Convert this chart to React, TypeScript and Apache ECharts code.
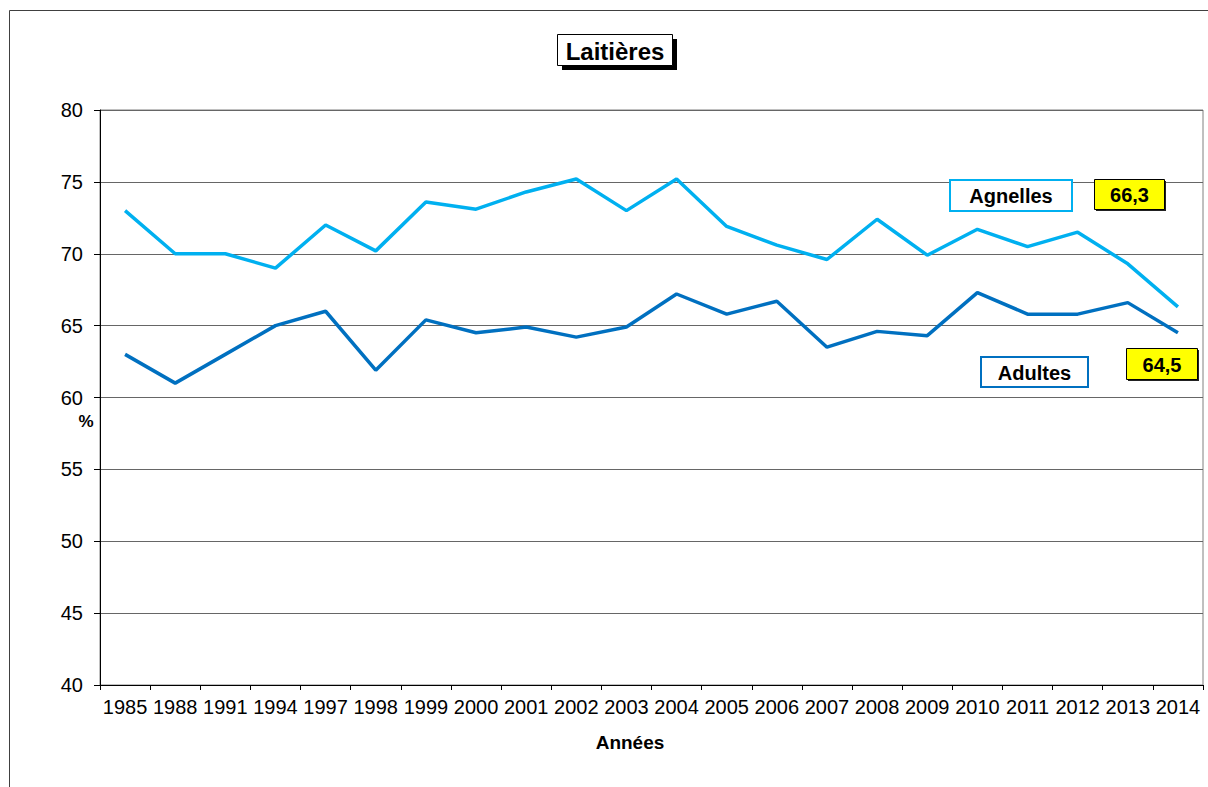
import React, { useEffect, useRef } from "react";
import * as echarts from "echarts";

const years = ["1985","1988","1991","1994","1997","1998","1999","2000","2001","2002","2003","2004","2005","2006","2007","2008","2009","2010","2011","2012","2013","2014"];
const agnelles = [73.0,70.0,70.0,69.0,72.0,70.2,73.6,73.1,74.3,75.2,73.0,75.2,71.9,70.6,69.6,72.4,69.9,71.7,70.5,71.5,69.3,66.3];
const adultes = [63.0,61.0,63.0,65.0,66.0,61.9,65.4,64.5,64.9,64.2,64.9,67.2,65.8,66.7,63.5,64.6,64.3,67.3,65.8,65.8,66.6,64.5];
const yTicks = { min: 40, max: 80, interval: 5 };
const title = "Laitières";
const seriesNames = ["Agnelles", "Adultes"];
const xName = "Années";
const yName = "%";

const FONT = "'Liberation Sans', Arial, Helvetica, sans-serif";
const fmt = (v: number) => v.toFixed(1).replace(".", ",");

export default function App() {
  const ref = useRef<HTMLDivElement>(null);
  useEffect(() => {
    if (!ref.current) return;
    const chart = echarts.init(ref.current, undefined, { renderer: "svg" });
    const lastA = agnelles[agnelles.length - 1];
    const lastB = adultes[adultes.length - 1];
    const boxText = (x: number, y: number, text: string, size = 20) => ({
      type: "text",
      x, y,
      z: 20,
      style: { text, fill: "#000", font: `bold ${size}px ${FONT}`, align: "center", verticalAlign: "middle" },
    });
    chart.setOption({
      animation: false,
      backgroundColor: "#fff",
      grid: { left: 100, right: 5, top: 110, bottom: 102, show: true, borderColor: "#808080", borderWidth: 1, backgroundColor: "transparent" },
      xAxis: {
        type: "category",
        data: years,
        boundaryGap: true,
        axisLine: { lineStyle: { color: "#000", width: 1 } },
        axisTick: { show: true, interval: 0, length: 5, lineStyle: { color: "#000" } },
        axisLabel: { interval: 0, color: "#000", fontSize: 20, fontFamily: FONT, margin: 12 },
        splitLine: { show: false },
      },
      yAxis: {
        type: "value",
        min: yTicks.min,
        max: yTicks.max,
        interval: yTicks.interval,
        axisLine: { show: true, lineStyle: { color: "#000", width: 1 } },
        axisTick: { show: true, length: 6, lineStyle: { color: "#000" } },
        axisLabel: { color: "#000", fontSize: 20, fontFamily: FONT, margin: 17 },
        splitLine: { show: true, lineStyle: { color: "#666", width: 1 } },
      },
      series: [
        { name: seriesNames[0], type: "line", data: agnelles, showSymbol: false, symbol: "none", lineStyle: { color: "#00B0F0", width: 3.5 }, itemStyle: { color: "#00B0F0" }, z: 3 },
        { name: seriesNames[1], type: "line", data: adultes, showSymbol: false, symbol: "none", lineStyle: { color: "#0070C0", width: 3.5 }, itemStyle: { color: "#0070C0" }, z: 3 },
      ],
      graphic: [
        { type: "rect", z: 0, silent: true, shape: { x: 9.5, y: 10.5, width: 1400, height: 1000 }, style: { fill: "none", stroke: "#404040", lineWidth: 1 } },
        // title
        { type: "rect", z: 18, shape: { x: 562, y: 39, width: 115, height: 31 }, style: { fill: "#000" } },
        { type: "rect", z: 19, shape: { x: 557.5, y: 34.5, width: 115, height: 31 }, style: { fill: "#fff", stroke: "#000", lineWidth: 1 } },
        boxText(615, 51, title, 24),
        // Agnelles label
        { type: "rect", z: 19, shape: { x: 950, y: 180, width: 122, height: 31 }, style: { fill: "#fff", stroke: "#00B0F0", lineWidth: 2 } },
        boxText(1011, 196, seriesNames[0]),
        { type: "rect", z: 18, shape: { x: 1096, y: 181, width: 70, height: 30 }, style: { fill: "#222" } },
        { type: "rect", z: 19, shape: { x: 1094.5, y: 179.5, width: 70, height: 30 }, style: { fill: "#FFFF00", stroke: "#000", lineWidth: 1 } },
        boxText(1129.5, 195, fmt(lastA)),
        // Adultes label
        { type: "rect", z: 19, shape: { x: 981, y: 357, width: 107, height: 30 }, style: { fill: "#fff", stroke: "#0070C0", lineWidth: 2 } },
        boxText(1034.5, 372.5, seriesNames[1]),
        { type: "rect", z: 18, shape: { x: 1128, y: 350, width: 71, height: 31 }, style: { fill: "#222" } },
        { type: "rect", z: 19, shape: { x: 1126.5, y: 348.5, width: 71, height: 31 }, style: { fill: "#FFFF00", stroke: "#000", lineWidth: 1 } },
        boxText(1162, 364.5, fmt(lastB)),
        // axis names
        boxText(86, 421, yName, 17),
        boxText(630, 742, xName, 19),
      ],
    });
    return () => chart.dispose();
  }, []);
  return <div ref={ref} style={{ position: "absolute", left: 0, top: 0, width: 1208, height: 787 }} />;
}
